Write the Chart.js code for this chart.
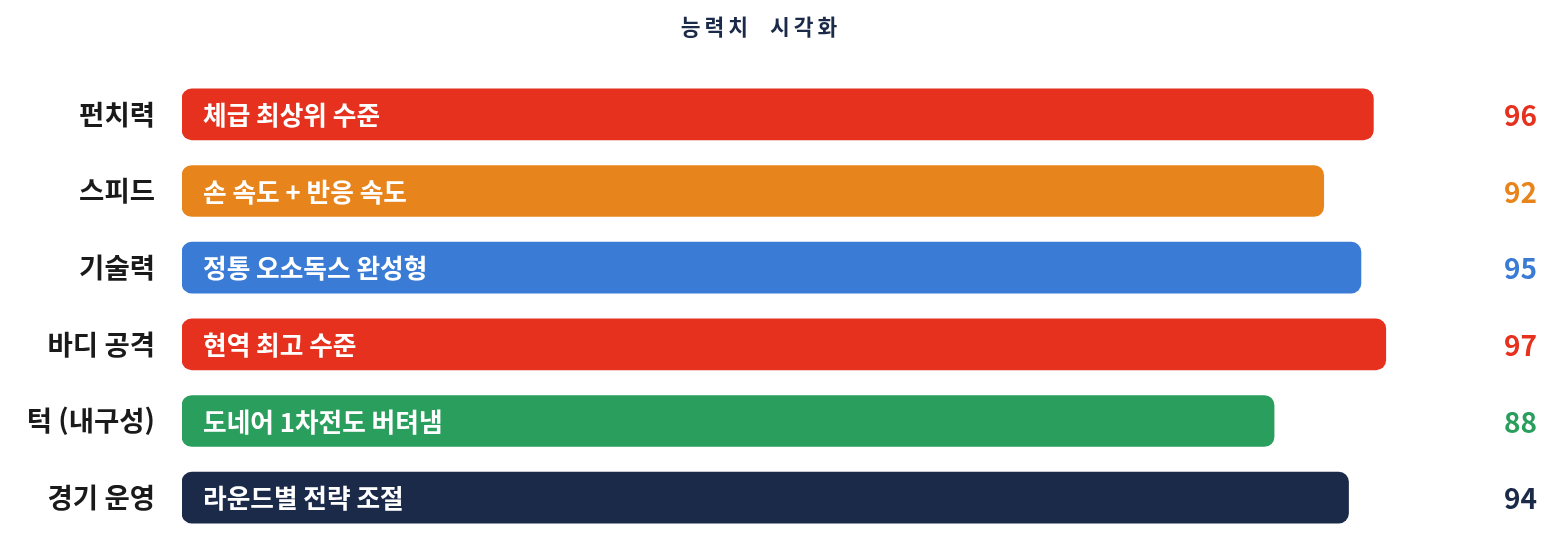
<!DOCTYPE html>
<html lang="ko">
<head>
<meta charset="utf-8">
<title>능력치 시각화</title>
<script src="https://cdn.jsdelivr.net/npm/chart.js@4.4.1/dist/chart.umd.min.js"></script>
<style>
    html, body { margin: 0; padding: 0; background: #ffffff; }
    .wrap { width: 1564px; height: 545px; position: relative; }
</style>
</head>
<body>
<div class="wrap"><canvas id="myChart"></canvas></div>
<script>
// 데이터
const categories = ['펀치력', '스피드', '기술력', '바디 공격', '턱 (내구성)', '경기 운영'];
const scores = [96, 92, 95, 97, 88, 94];
const notes = ['체급 최상위 수준', '손 속도 + 반응 속도', '정통 오소독스 완성형', '현역 최고 수준', '도네어 1차전도 버텨냄', '라운드별 전략 조절'];
const barColors = ['#e5311d', '#e8841c', '#3a7bd6', '#e5311d', '#2a9e5c', '#1c2a4a'];
const titleText = '능력치  시각화';

const FONT = "'Noto Sans CJK KR', 'Noto Sans', sans-serif";

// 제목, 막대 안 설명, 오른쪽 점수를 그리는 플러그인
const barText = {
    id: 'barText',
    afterDatasetsDraw(chart) {
        const ctx = chart.ctx;
        const meta = chart.getDatasetMeta(0);
        const xScale = chart.scales.x;
        ctx.save();
        ctx.textBaseline = 'middle';
        meta.data.forEach((bar, i) => {
            // 막대 안 텍스트
            ctx.font = 'bold 25.7px ' + FONT;
            ctx.fillStyle = '#ffffff';
            ctx.textAlign = 'left';
            ctx.fillText(notes[i], xScale.getPixelForValue(0) + 21, bar.y + 1);
            // 오른쪽 점수
            ctx.font = 'bold 28px ' + FONT;
            ctx.fillStyle = barColors[i];
            ctx.textAlign = 'right';
            ctx.fillText(String(scores[i]), chart.width - 27, bar.y + 1);
        });
        // 제목
        ctx.font = 'bold 21.5px ' + FONT;
        ctx.fillStyle = '#1c2a4a';
        ctx.textAlign = 'center';
        ctx.letterSpacing = '4px';
        ctx.fillText(titleText, chart.width / 2 - 21, 27);
        ctx.restore();
    }
};

const ctx = document.getElementById('myChart').getContext('2d');
const myChart = new Chart(ctx, {
    type: 'bar',
    data: {
        labels: categories,
        datasets: [{
            data: scores,
            backgroundColor: barColors,
            borderRadius: 10,
            borderSkipped: false,
            barThickness: 51
        }]
    },
    options: {
        indexAxis: 'y',
        responsive: true,
        maintainAspectRatio: false,
        animation: false,
        layout: {
            padding: { top: 76, bottom: 9, left: 0, right: 141 }
        },
        plugins: {
            legend: { display: false },
            title: { display: false },
            tooltip: { enabled: false }
        },
        scales: {
            x: {
                min: 0,
                max: 100,
                display: false
            },
            y: {
                grid: { display: false, drawTicks: false },
                border: { display: false },
                ticks: {
                    padding: 27,
                    color: '#1a1a1a',
                    font: { family: FONT, size: 27.5, weight: 'bold' }
                },
                afterFit(scale) {
                    scale.width = 182;
                    scale.paddingTop = 0;
                    scale.paddingBottom = 0;
                }
            }
        }
    },
    plugins: [barText]
});
</script>
</body>
</html>
